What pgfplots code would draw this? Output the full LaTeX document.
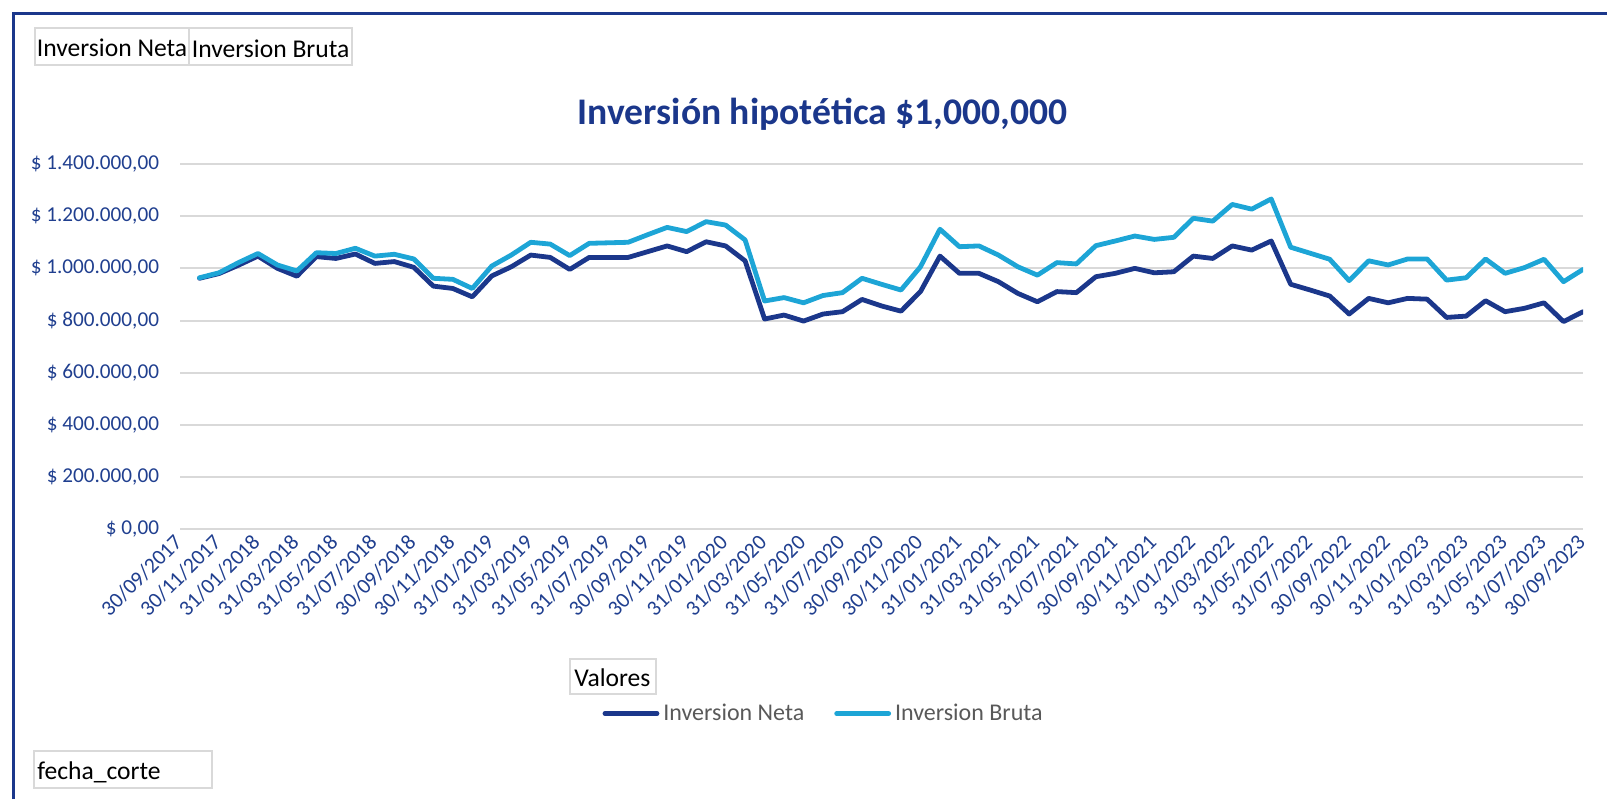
\documentclass[border=0pt]{standalone}
\usepackage{pgfplots}
\pgfplotsset{compat=1.18}
\usepackage{fontspec}
\setmainfont{Carlito}
\definecolor{navy}{HTML}{1B378B}
\definecolor{sky}{HTML}{1DA5D6}
\definecolor{ticknavy}{HTML}{203F8F}
\definecolor{gridgray}{HTML}{D9D9D9}
\definecolor{leggray}{HTML}{595959}
\pgfplotstableread{
x neta bruta
1 962000 964000
2 980000 983000
3 1012000 1022000
4 1047000 1057000
5 1000000 1013000
6 970000 990000
7 1045000 1060000
8 1038000 1057000
9 1055000 1077000
10 1019000 1047000
11 1026000 1054000
12 1004000 1036000
13 932000 962000
14 923000 958000
15 891000 923000
16 971000 1009000
17 1006000 1051000
18 1051000 1100000
19 1042000 1093000
20 996000 1049000
21 1042000 1096000
22 1042000 1098000
23 1042000 1100000
24 1064000 1129000
25 1086000 1157000
26 1064000 1141000
27 1102000 1179000
28 1086000 1166000
29 1029000 1109000
30 806000 875000
31 821000 888000
32 798000 868000
33 825000 896000
34 834000 907000
35 881000 962000
36 856000 939000
37 836000 917000
38 911000 1006000
39 1047000 1150000
40 981000 1083000
41 981000 1086000
42 949000 1051000
43 904000 1006000
44 872000 974000
45 911000 1022000
46 907000 1017000
47 968000 1087000
48 981000 1105000
49 1000000 1124000
50 983000 1111000
51 987000 1119000
52 1047000 1192000
53 1038000 1181000
54 1086000 1245000
55 1070000 1227000
56 1105000 1266000
57 939000 1081000
58 917000 1058000
59 894000 1035000
60 825000 953000
61 885000 1029000
62 868000 1013000
63 885000 1036000
64 882000 1036000
65 812000 955000
66 817000 964000
67 876000 1036000
68 834000 981000
69 847000 1003000
70 868000 1035000
71 796000 949000
72 834000 996000
}\datatable
\begin{document}
\begin{tikzpicture}[x=0.5pt,y=0.5pt]
\useasboundingbox (0,0) rectangle (1607,799);
% frame
\draw[navy, line width=1.7pt] (13.3,0) -- (13.3,785.7) -- (1607,785.7);
% top-left boxes
\draw[gridgray, line width=0.75pt] (35,771) rectangle (189,734);
\draw[gridgray, line width=0.75pt] (189,771) rectangle (352,734);
\node[anchor=base west, inner sep=0pt, font=\fontsize{12.8}{15}\selectfont] at (36.5,742) {Inversion Neta};
\node[anchor=base west, inner sep=0pt, font=\fontsize{12.8}{15}\selectfont] at (191.5,741) {Inversion Bruta};
% Valores box
\draw[gridgray, line width=0.75pt] (570,140) rectangle (656,105);
\node[anchor=base west, inner sep=0pt, font=\fontsize{12.8}{15}\selectfont] at (574,113) {Valores};
% fecha_corte box
\draw[gridgray, line width=0.75pt] (34,48) rectangle (212,11);
\node[anchor=base west, inner sep=0pt, font=\fontsize{12.8}{15}\selectfont] at (37,20) {fecha\_corte};
% title
\node[anchor=base, inner sep=0pt, font=\fontsize{18.8}{23}\selectfont\bfseries, text=navy] at (822.6,674.4) {Inversión hipotética \$1,000,000};
\begin{axis}[
  at={(90pt,134.85pt)}, anchor=south west,
  scale only axis, width=701.5pt, height=182.65pt,
  xmin=0, xmax=72, ymin=0, ymax=1400000,
  axis line style={draw=none}, tick style={draw=none},
  ymajorgrids, major grid style={gridgray, line width=1pt},
  scaled y ticks=false,
  ytick={0,200000,400000,600000,800000,1000000,1200000,1400000},
  yticklabels={{\$ 0,00},{\$ 200.000,00},{\$ 400.000,00},{\$ 600.000,00},{\$ 800.000,00},{\$ 1.000.000,00},{\$ 1.200.000,00},{\$ 1.400.000,00}},
  yticklabel style={font=\fontsize{10.6}{12}\selectfont, text=ticknavy, anchor=east, inner sep=0pt, xshift=-10.3pt},
  xtick={0,2,...,72},
  xticklabels={30/09/2017,30/11/2017,31/01/2018,31/03/2018,31/05/2018,31/07/2018,30/09/2018,30/11/2018,31/01/2019,31/03/2019,31/05/2019,31/07/2019,30/09/2019,30/11/2019,31/01/2020,31/03/2020,31/05/2020,31/07/2020,30/09/2020,30/11/2020,31/01/2021,31/03/2021,31/05/2021,31/07/2021,30/09/2021,30/11/2021,31/01/2022,31/03/2022,31/05/2022,31/07/2022,30/09/2022,30/11/2022,31/01/2023,31/03/2023,31/05/2023,31/07/2023,30/09/2023},
  xticklabel style={font=\fontsize{10.8}{13}\selectfont, text=ticknavy, xshift=0pt, yshift=-3.8pt, rotate=45, anchor=east, inner sep=1pt},
  legend columns=2,
  legend image code/.code={\draw[#1, line cap=round] (1pt,0pt) -- (27pt,0pt);},
  legend style={at={(0.3009,-0.5045)}, anchor=west, draw=none, fill=none, inner sep=0pt,
     font=\color{leggray}\fontsize{12}{14}\selectfont,
     /tikz/every even column/.append style={column sep=13pt}},
  legend cell align=left,
]
\addplot[navy, line width=2.4pt, line join=round, line cap=round] table[x=x, y=neta] {\datatable};
\addlegendentry{Inversion Neta}
\addplot[sky, line width=2.4pt, line join=round, line cap=round] table[x=x, y=bruta] {\datatable};
\addlegendentry{Inversion Bruta}
\end{axis}
\end{tikzpicture}
\end{document}
